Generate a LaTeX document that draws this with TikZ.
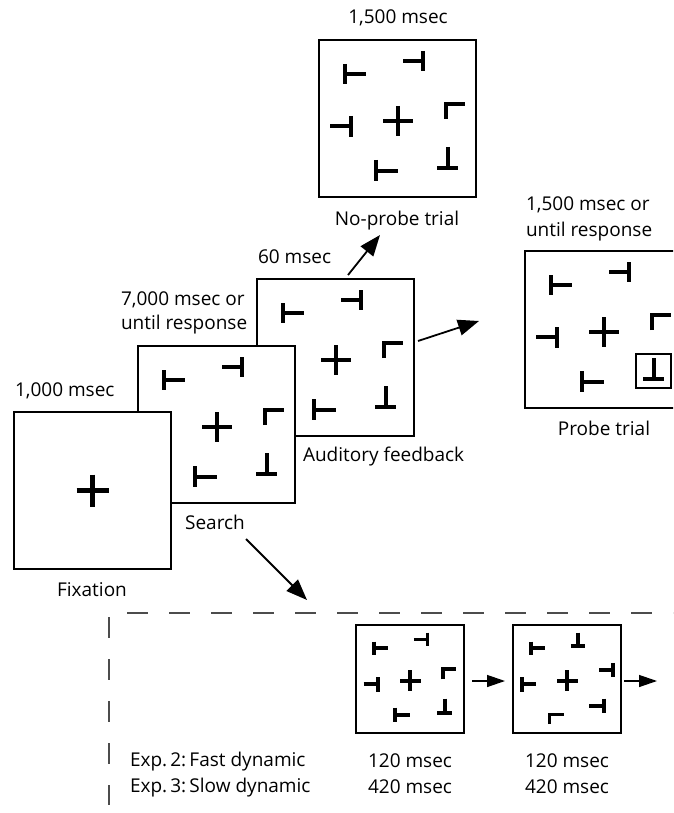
\documentclass[tikz,border=0pt]{standalone}
\usepackage{fontspec}
\setmainfont{Open Sans}
\usetikzlibrary{arrows.meta}

\tikzset{
  frame/.style={draw, line width=1.8pt, fill=white, rectangle, inner sep=0pt, outer sep=0pt,
    minimum width=157pt, minimum height=157pt, anchor=north west},
  smallframe/.style={frame, minimum width=108pt, minimum height=108pt},
  bar/.style={line width=4.2pt},
  sbar/.style={line width=3.8pt},
  lbl/.style={font=\fontsize{19}{25}\selectfont, inner sep=0pt, outer sep=0pt},
  bigarrow/.style={line width=1.8pt, -{Triangle[length=21pt,width=16pt]}},
  smallarrow/.style={line width=1.3pt, -{Triangle[length=18pt,width=12pt]}},
  dashline/.style={line width=1.5pt, black!70, dash pattern=on 21pt off 21pt},
  probeframe/.style={draw, line width=1.5pt},
}

\newcommand{\stimA}[1]{%
  \draw[#1] (26,24)--(26,44) (26,34)--(47,34);
  \draw[#1] (84,21)--(105,21) (104,11)--(104,31);
  \draw[#1] (64,81)--(94,81) (79,66)--(79,96);
  \draw[#1,line join=miter] (127,79)--(127,64)--(146,64);
  \draw[#1] (11,86)--(33,86) (32,76)--(32,97);
  \draw[#1] (129,107)--(129,128) (118,128)--(139,128);
  \draw[#1] (57,120)--(57,141) (57,131)--(79,131);
}
\newcommand{\stimB}[1]{%
  \draw[#1] (26,24)--(26,44) (26,34)--(47,34);
  \draw[#1] (94.5,11)--(94.5,31) (84,31)--(105,31);
  \draw[#1] (64,81)--(94,81) (79,66)--(79,96);
  \draw[#1] (125,65)--(146,65) (145,55)--(145,76);
  \draw[#1] (13,76)--(13,97) (13,86)--(34,86);
  \draw[#1] (111,118)--(133,118) (132,107)--(132,128);
  \draw[#1,line join=miter] (53,144)--(53,130)--(74,130);
}

\begin{document}
\begin{tikzpicture}[x=1pt, y=-1pt]
\useasboundingbox (0,0) rectangle (673,813);
\clip (0,0) rectangle (673,813);

% ---------- probe trial ----------
\node[frame] (probe) at (525,251) {};
\begin{scope}[shift={(525,251)}]
  \stimA{bar}
  \draw[probeframe] (111,103) rectangle (146,137);
\end{scope}
\node[lbl, anchor=base west] (probeT1) at (526,211) {1,500 msec or};
\node[lbl, anchor=base west] (probeT2) at (526,236) {until response};
\node[lbl, anchor=base] (probeL) at (604,435) {Probe trial};

% ---------- no-probe trial ----------
\node[frame] (noprobe) at (319,40) {};
\begin{scope}[shift={(319,40)}]
  \stimA{bar}
\end{scope}
\node[lbl, anchor=base] (noprobeT) at (398,24) {1,500 msec};
\node[lbl, anchor=base] (noprobeL) at (397,225) {No-probe trial};

% ---------- auditory feedback ----------
\node[frame] (aud) at (257,279) {};
\begin{scope}[shift={(257,279)}]
  \stimA{bar}
\end{scope}
\node[lbl, anchor=base west] (audT) at (258,263) {60 msec};
\node[lbl, anchor=base west] (audL) at (303,461) {Auditory feedback};

% ---------- search ----------
\node[frame] (search) at (138,346) {};
\begin{scope}[shift={(138,346)}]
  \stimA{bar}
\end{scope}
\node[lbl, anchor=base west] (searchT1) at (121,305) {7,000 msec or};
\node[lbl, anchor=base west] (searchT2) at (121,329) {until response};
\node[lbl, anchor=base] (searchL) at (215,529) {Search};

% ---------- fixation ----------
\node[frame] (fix) at (14,412) {};
\draw[bar] (76.5,490.5)--(108.5,490.5) (92.5,474.5)--(92.5,506.5);
\node[lbl, anchor=base west] (fixT) at (15,396) {1,000 msec};
\node[lbl, anchor=base] (fixL) at (92,596) {Fixation};

% ---------- arrows ----------
\coordinate (a1s) at (348,275);
\coordinate (a1e) at (380,235);
\coordinate (a2s) at (418,341);
\coordinate (a2e) at (479,321);
\coordinate (a3s) at (246,539);
\coordinate (a3e) at (307,600);
\draw[bigarrow] (a1s) -- (a1e);
\draw[bigarrow] (a2s) -- (a2e);
\draw[bigarrow] (a3s) -- (a3e);

% ---------- dashed frame ----------
\coordinate (dh1) at (127,613);
\coordinate (dh2) at (690,613);
\coordinate (dv1) at (109,617);
\coordinate (dv2) at (109,805);
\draw[dashline] (dh1) -- (dh2);
\draw[dashline] (dv1) -- (dv2);

% ---------- dynamic displays ----------
\node[smallframe] (dyn1) at (356,625) {};
\begin{scope}[shift={(356,625)}, scale=0.688]
  \stimA{sbar}
\end{scope}
\node[smallframe] (dyn2) at (513,625) {};
\begin{scope}[shift={(513,625)}, scale=0.688]
  \stimB{sbar}
\end{scope}
\coordinate (s1s) at (472,681);
\coordinate (s1e) at (505,681);
\coordinate (s2s) at (624,681);
\coordinate (s2e) at (657,681);
\draw[smallarrow] (s1s) -- (s1e);
\draw[smallarrow] (s2s) -- (s2e);

\node[lbl, anchor=base west] (exp2) at (130,766) {Exp.\,2:\,Fast dynamic};
\node[lbl, anchor=base west] (exp3) at (130,792) {Exp.\,3:\,Slow dynamic};
\node[lbl, anchor=base] (d1a) at (410,767) {120 msec};
\node[lbl, anchor=base] (d1b) at (410,793) {420 msec};
\node[lbl, anchor=base] (d2a) at (567,767) {120 msec};
\node[lbl, anchor=base] (d2b) at (567,793) {420 msec};
\end{tikzpicture}
\end{document}
